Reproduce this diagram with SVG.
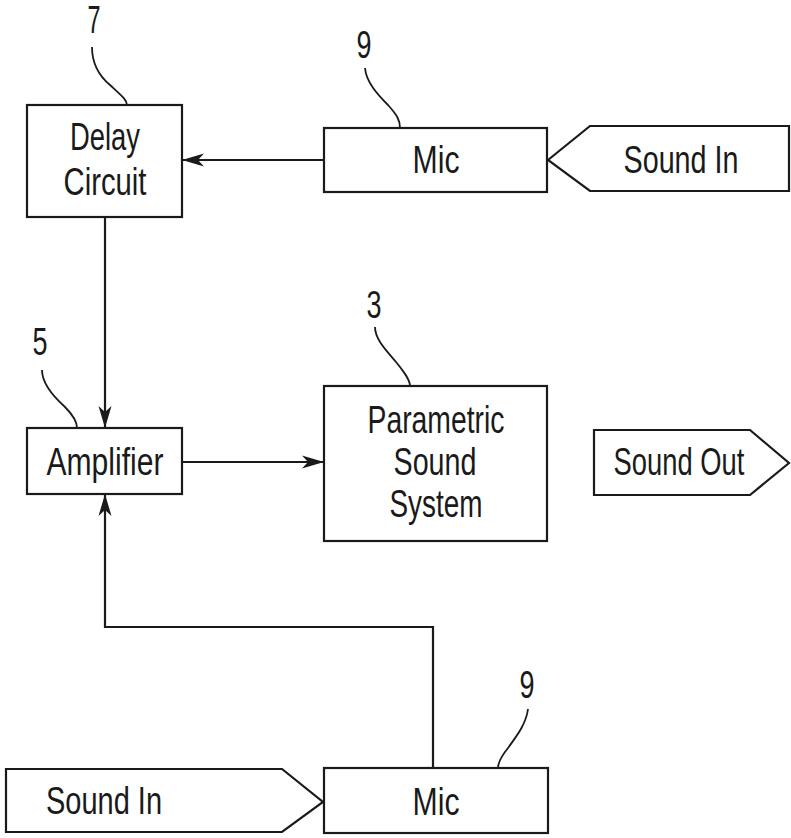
<svg xmlns="http://www.w3.org/2000/svg" width="791" height="838" viewBox="0 0 791 838">
<style>
.box{fill:#fff;stroke:#1a1a1a;stroke-width:2.2}
.wire{fill:none;stroke:#1a1a1a;stroke-width:2.2}
.lead{fill:none;stroke:#1a1a1a;stroke-width:1.8}
text{font-family:"Liberation Sans",Arial,sans-serif;font-size:38px;fill:#1a1a1a;text-anchor:middle}
</style>
<defs>
<marker id="ah" markerUnits="userSpaceOnUse" markerWidth="24" markerHeight="14" refX="22" refY="7" orient="auto">
<path d="M0,0.5 L22,7 L0,13.5 L6,7 z" fill="#1a1a1a"/>
</marker>
</defs>
<rect width="791" height="838" fill="#fff"/>
<g id="connectors">
<path class="wire" d="M324,160 H182" marker-end="url(#ah)"/>
<path class="wire" d="M105,217 V428" marker-end="url(#ah)"/>
<path class="wire" d="M182,462 H324" marker-end="url(#ah)"/>
<path class="wire" d="M433,768 V627 H105 V494" marker-end="url(#ah)"/>
</g>
<g id="delay">
<rect class="box" x="27" y="105" width="155" height="112"/>
<text x="105" y="150" textLength="70" lengthAdjust="spacingAndGlyphs">Delay</text>
<text x="105" y="195" textLength="83" lengthAdjust="spacingAndGlyphs">Circuit</text>
</g>
<g id="label7">
<text x="94" y="33" textLength="13" lengthAdjust="spacingAndGlyphs">7</text>
<path class="lead" d="M92,47 C92,62 98,75 110,85 C122,96 127,100 127,105"/>
</g>
<g id="mic-top">
<rect class="box" x="324" y="128" width="223" height="64"/>
<text x="436" y="173" textLength="47" lengthAdjust="spacingAndGlyphs">Mic</text>
</g>
<g id="label9-top">
<text x="364" y="58" textLength="15" lengthAdjust="spacingAndGlyphs">9</text>
<path class="lead" d="M365,68 C366,82 378,95 388,105 C397,115 400,120 400,128"/>
</g>
<g id="sound-in-top">
<polygon class="box" points="548,160 590,126 789,126 789,191 590,191"/>
<text x="681" y="173" textLength="115" lengthAdjust="spacingAndGlyphs">Sound In</text>
</g>
<g id="amplifier">
<rect class="box" x="27" y="428" width="155" height="66"/>
<text x="105" y="475" textLength="117" lengthAdjust="spacingAndGlyphs">Amplifier</text>
</g>
<g id="label5">
<text x="40" y="355" textLength="15" lengthAdjust="spacingAndGlyphs">5</text>
<path class="lead" d="M42,370 C42,385 55,398 65,407 C74,416 77,422 77,428"/>
</g>
<g id="parametric">
<rect class="box" x="324" y="386" width="223" height="155"/>
<text x="436" y="433" textLength="137" lengthAdjust="spacingAndGlyphs">Parametric</text>
<text x="435" y="475" textLength="83" lengthAdjust="spacingAndGlyphs">Sound</text>
<text x="436" y="517" textLength="93" lengthAdjust="spacingAndGlyphs">System</text>
</g>
<g id="label3">
<text x="374" y="318" textLength="15" lengthAdjust="spacingAndGlyphs">3</text>
<path class="lead" d="M375,327 C375,340 388,352 396,362 C405,373 410,380 410,386"/>
</g>
<g id="sound-out">
<polygon class="box" points="594,430 750,430 789,463 750,495 594,495"/>
<text transform="translate(679,475) scale(0.72,1)" x="0" y="0">Sound Out</text>
</g>
<g id="sound-in-bottom">
<polygon class="box" points="6,769 282,769 323,802 282,832 6,832"/>
<text x="104" y="814" textLength="116" lengthAdjust="spacingAndGlyphs">Sound In</text>
</g>
<g id="mic-bottom">
<rect class="box" x="324" y="768" width="224" height="65"/>
<text x="436" y="815" textLength="47" lengthAdjust="spacingAndGlyphs">Mic</text>
</g>
<g id="label9-bottom">
<text x="527" y="698" textLength="15" lengthAdjust="spacingAndGlyphs">9</text>
<path class="lead" d="M528,709 C526,725 515,738 508,748 C500,758 498,763 498,768"/>
</g>
</svg>
